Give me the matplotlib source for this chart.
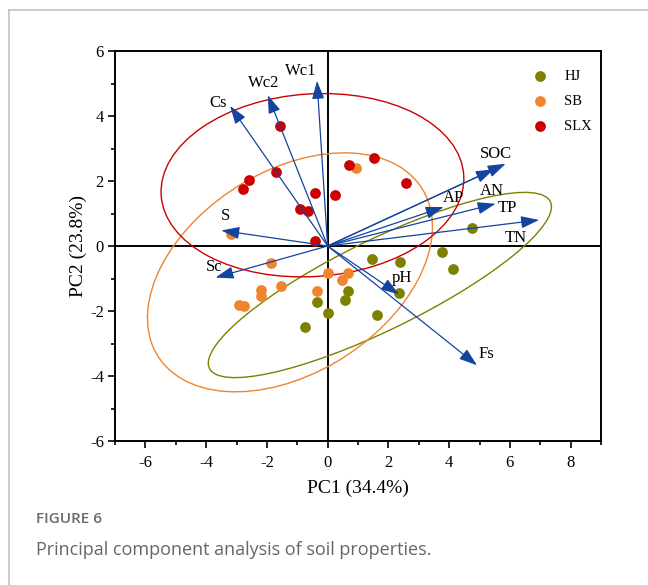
import matplotlib
matplotlib.use("Agg")
import matplotlib.pyplot as plt
from matplotlib.patches import Ellipse, FancyArrowPatch
from matplotlib.lines import Line2D
from matplotlib.ticker import MultipleLocator

# sample scores (PC1, PC2)
hj_x = [4.75, 1.45, 2.37, 3.77, 4.12, 0.67, 0.57, -0.35, 0.00, -0.76, 2.35, 1.63]
hj_y = [0.56, -0.41, -0.50, -0.19, -0.72, -1.38, -1.65, -1.73, -2.06, -2.49, -1.46, -2.13]
sb_x = [-3.17, 0.92, -1.87, 0.00, 0.67, 0.47, -1.55, -2.20, -2.20, -2.92, -2.74, -0.36]
sb_y = [0.38, 2.41, -0.52, -0.82, -0.83, -1.06, -1.23, -1.34, -1.54, -1.80, -1.86, -1.39]
slx_x = [-1.58, -1.69, -2.60, -2.77, -0.40, 0.25, -0.91, -0.64, -0.43, 0.70, 1.52, 2.58]
slx_y = [3.69, 2.29, 2.02, 1.76, 1.64, 1.57, 1.13, 1.08, 0.15, 2.49, 2.72, 1.95]

# confidence ellipses: centre x, centre y, semi-major, semi-minor, angle
ell_hj = (1.72, -1.20, 6.17, 1.40, 24.4)
ell_sb = (-1.24, -0.81, 5.06, 3.15, 28.6)
ell_slx = (-0.50, 1.87, 4.99, 2.81, 3.4)

# loadings
var_names = ["Wc1", "Wc2", "Cs", "S", "Sc", "SOC", "AN", "AP", "TP", "TN", "pH", "Fs"]
var_x = [-0.35, -1.97, -3.21, -3.50, -3.69, 5.86, 5.47, 3.82, 5.53, 6.96, 2.35, 4.92]
var_y = [5.08, 4.64, 4.31, 0.48, -0.97, 2.53, 2.36, 1.20, 1.30, 0.80, -1.49, -3.67]
lab_x = [-0.87, -2.10, -3.59, -3.36, -3.75, 5.55, 5.42, 4.13, 5.91, 6.21, 2.43, 5.23]
lab_y = [5.38, 5.03, 4.41, 0.92, -0.64, 2.82, 1.69, 1.49, 1.18, 0.24, -1.00, -3.33]

c_hj = "#7f7f00"
c_sb = "#f0852d"
c_slx = "#cc0000"
c_arrow = "#1444a0"

plt.rcParams['font.family'] = ['Liberation Serif', 'DejaVu Serif']
plt.rcParams['axes.unicode_minus'] = False

fig = plt.figure(figsize=(6.48, 5.85), dpi=100)
ax = fig.add_axes([115/648, 1-441/585, (601-115)/648, (441-51)/585])

for e, col in [(ell_hj, c_hj), (ell_sb, c_sb), (ell_slx, c_slx)]:
    ax.add_patch(Ellipse((e[0], e[1]), 2*e[2], 2*e[3], angle=e[4],
                         fill=False, edgecolor=col, lw=1.0, zorder=2))

ax.axhline(0, color='black', lw=1.4, zorder=1)
ax.axvline(0, color='black', lw=1.4, zorder=1)

ax.scatter(hj_x, hj_y, s=60, color=c_hj, label="HJ", zorder=3, linewidths=0)
ax.scatter(sb_x, sb_y, s=60, color=c_sb, label="SB", zorder=3, linewidths=0)
ax.scatter(slx_x, slx_y, s=60, color=c_slx, label="SLX", zorder=3, linewidths=0)

for i in range(len(var_names)):
    arr = FancyArrowPatch((0, 0), (var_x[i], var_y[i]),
                          arrowstyle='-|>,head_length=1.0,head_width=0.34',
                          mutation_scale=11, color=c_arrow, lw=0.9,
                          shrinkA=0, shrinkB=0, zorder=4)
    ax.add_patch(arr)
    ax.text(lab_x[i], lab_y[i], var_names[i], fontsize=12,
            ha='center', va='center', zorder=5)

ax.set_xlim(-7, 9)
ax.set_ylim(-6, 6)
ax.xaxis.set_major_locator(MultipleLocator(2))
ax.xaxis.set_minor_locator(MultipleLocator(1))
ax.yaxis.set_major_locator(MultipleLocator(2))
ax.yaxis.set_minor_locator(MultipleLocator(1))
ax.set_xticks([-6, -4, -2, 0, 2, 4, 6, 8])
ax.tick_params(which='major', direction='out', length=5, width=1.2, labelsize=12)
ax.tick_params(which='minor', direction='out', length=2.8, width=1.2)
ax.tick_params(axis='x', pad=5)
ax.tick_params(axis='y', pad=3)
for sp in ax.spines.values():
    sp.set_linewidth(1.4)

ax.set_xlabel("PC1 (34.4%)", fontsize=14)
ax.set_ylabel("PC2 (23.8%)", fontsize=14)
ax.xaxis.set_label_coords(0.5, -0.10)
ax.yaxis.set_label_coords(-0.058, 0.5)

ax.legend(loc='upper right', bbox_to_anchor=(1.009, 0.985), frameon=False,
          fontsize=10.5, handletextpad=0.65, labelspacing=0.8, scatterpoints=1)

# page frame and caption
fig.add_artist(Line2D([9/648, 9/648], [1-10/585, 0], color='#c4c4c4', lw=1.2))
fig.add_artist(Line2D([9/648, 1], [1-10/585, 1-10/585], color='#c4c4c4', lw=1.2))
fig.text(36/648, 1-519/585, "FIGURE 6", family='Open Sans', fontsize=11,
         fontweight='semibold', color='#6a6a6a', va='center')
fig.text(36/648, 1-550/585, "Principal component analysis of soil properties.",
         family='Open Sans', fontsize=13, color='#666666', va='center')

fig.savefig("out.png", dpi=100)
